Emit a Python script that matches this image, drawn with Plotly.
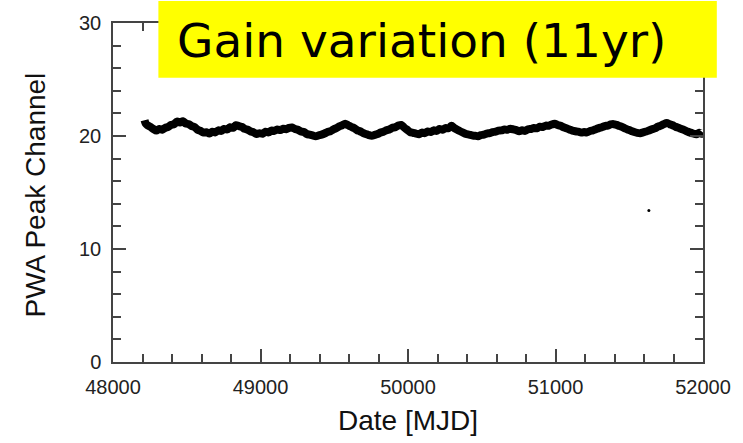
import plotly.graph_objects as go

# ---- data ----
mjd = [48214, 48222, 48234, 48254, 48274, 48294, 48314, 48334, 48354, 48374,
       48394, 48414, 48434, 48454, 48474, 48494, 48514, 48534, 48554, 48574,
       48594, 48614, 48634, 48654, 48674, 48694, 48714, 48734, 48754, 48774,
       48794, 48814, 48834, 48854, 48874, 48894, 48914, 48934, 48954, 48974,
       48994, 49014, 49034, 49054, 49074, 49094, 49114, 49134, 49154, 49174,
       49194, 49214, 49234, 49254, 49274, 49294, 49314, 49334, 49354, 49374,
       49394, 49414, 49434, 49454, 49474, 49494, 49514, 49534, 49554, 49574,
       49594, 49614, 49634, 49654, 49674, 49694, 49714, 49734, 49754, 49774,
       49794, 49814, 49834, 49854, 49874, 49894, 49914, 49934, 49954, 49974,
       49994, 50014, 50034, 50054, 50074, 50094, 50114, 50134, 50154, 50174,
       50194, 50214, 50234, 50254, 50274, 50294, 50314, 50334, 50354, 50374,
       50394, 50414, 50434, 50454, 50474, 50494, 50514, 50534, 50554, 50574,
       50594, 50614, 50634, 50654, 50674, 50694, 50714, 50734, 50754, 50774,
       50794, 50814, 50834, 50854, 50874, 50894, 50914, 50934, 50954, 50974,
       50994, 51014, 51034, 51054, 51074, 51094, 51114, 51134, 51154, 51174,
       51194, 51214, 51234, 51254, 51274, 51294, 51314, 51334, 51354, 51374,
       51394, 51414, 51434, 51454, 51474, 51494, 51514, 51534, 51554, 51574,
       51594, 51614, 51634, 51654, 51674, 51694, 51714, 51734, 51754, 51774,
       51794, 51814, 51834, 51854, 51874, 51894, 51914, 51934, 51954, 51974,
       51990, 52000]
peak_channel = [21.40, 21.10, 20.95, 20.80, 20.62, 20.48, 20.62, 20.55, 20.72, 20.80,
                20.98, 21.05, 21.28, 21.20, 21.30, 21.10, 21.05, 20.88, 20.78, 20.55,
                20.45, 20.30, 20.34, 20.22, 20.38, 20.32, 20.50, 20.45, 20.62, 20.58,
                20.78, 20.72, 20.95, 20.88, 20.80, 20.62, 20.55, 20.40, 20.32, 20.18,
                20.25, 20.20, 20.38, 20.32, 20.48, 20.45, 20.58, 20.52, 20.65, 20.60,
                20.72, 20.75, 20.62, 20.55, 20.40, 20.35, 20.18, 20.12, 20.05, 19.98,
                20.05, 20.12, 20.22, 20.35, 20.42, 20.58, 20.70, 20.85, 20.95, 21.08,
                20.95, 20.82, 20.70, 20.52, 20.42, 20.28, 20.18, 20.08, 20.02, 20.10,
                20.18, 20.30, 20.38, 20.50, 20.58, 20.72, 20.78, 20.92, 20.98, 20.75,
                20.55, 20.35, 20.28, 20.22, 20.15, 20.30, 20.25, 20.40, 20.35, 20.50,
                20.45, 20.62, 20.55, 20.70, 20.68, 20.90, 20.70, 20.55, 20.42, 20.30,
                20.18, 20.12, 20.05, 20.02, 19.98, 20.08, 20.12, 20.22, 20.25, 20.35,
                20.38, 20.48, 20.50, 20.58, 20.55, 20.65, 20.58, 20.52, 20.42, 20.50,
                20.45, 20.60, 20.62, 20.70, 20.68, 20.82, 20.80, 20.92, 20.90, 21.02,
                21.08, 20.98, 20.90, 20.78, 20.68, 20.58, 20.48, 20.42, 20.38, 20.30,
                20.35, 20.32, 20.45, 20.50, 20.60, 20.70, 20.78, 20.88, 20.92, 21.02,
                21.05, 20.98, 20.88, 20.78, 20.65, 20.55, 20.45, 20.35, 20.28, 20.25,
                20.32, 20.40, 20.48, 20.60, 20.68, 20.82, 20.92, 21.05, 21.15, 21.05,
                20.95, 20.82, 20.72, 20.62, 20.52, 20.40, 20.30, 20.22, 20.15, 20.28,
                20.20, 20.32]
outlier_mjd = [51633]
outlier_val = [13.4]

x_tickvals = [48000, 49000, 50000, 51000, 52000]
y_tickvals = [0, 10, 20, 30]
title_text = "Gain variation (11yr)"
x_title = "Date [MJD]"
y_title = "PWA Peak Channel"

W, H = 743, 443
L, R, T, B = 113, 32, 22, 81
pw, ph = W - L - R, H - T - B


def px(xp):
    return (xp - L) / pw


def py(yp):
    return (H - B - yp) / ph


fig = go.Figure()
fig.add_trace(go.Scatter(x=mjd, y=peak_channel, mode="lines",
                         line=dict(color="black", width=8, shape="spline", smoothing=0.8),
                         hoverinfo="skip"))
fig.add_trace(go.Scatter(x=outlier_mjd, y=outlier_val, mode="markers",
                         marker=dict(color="black", size=3), hoverinfo="skip"))

axis_common = dict(showline=True, linecolor="#444", linewidth=1.5, mirror="ticks",
                   ticks="inside", ticklen=13, tickwidth=1.5, tickcolor="#444",
                   showgrid=False, zeroline=False,
                   tickfont=dict(family="Liberation Sans", size=20, color="#222"))

fig.update_xaxes(range=[48000, 52000], tickvals=x_tickvals,
                 ticktext=[str(v) for v in x_tickvals], ticklabelstandoff=6,
                 minor=dict(dtick=200, tick0=48000, ticks="inside", ticklen=8,
                            tickwidth=1.5, tickcolor="#444"),
                 **axis_common)
fig.update_yaxes(range=[0, 30], tickvals=y_tickvals,
                 ticktext=[str(v) for v in y_tickvals], ticklabelstandoff=6,
                 minor=dict(dtick=2, tick0=0, ticks="inside", ticklen=8,
                            tickwidth=1.5, tickcolor="#444"),
                 **axis_common)

fig.add_shape(type="rect", xref="paper", yref="paper",
              x0=px(159), x1=px(725), y0=py(77), y1=py(0),
              fillcolor="#ffff00", line=dict(width=0), layer="above")

fig.add_annotation(xref="paper", yref="paper", x=px(176), y=py(40),
                   xanchor="left", yanchor="middle", showarrow=False,
                   text=title_text,
                   font=dict(family="DejaVu Sans", size=47, color="black"))
fig.add_annotation(xref="paper", yref="paper", x=px(412), y=py(421),
                   xanchor="center", yanchor="middle", showarrow=False,
                   text=x_title,
                   font=dict(family="Liberation Sans", size=28, color="#111"))
fig.add_annotation(xref="paper", yref="paper", x=px(34), y=py(195),
                   xanchor="center", yanchor="middle", showarrow=False,
                   textangle=-90, text=y_title,
                   font=dict(family="Liberation Sans", size=28, color="#111"))

fig.update_layout(width=W, height=H, margin=dict(l=L, r=R, t=T, b=B),
                  paper_bgcolor="white", plot_bgcolor="white", showlegend=False)

fig.write_html("out.html")
